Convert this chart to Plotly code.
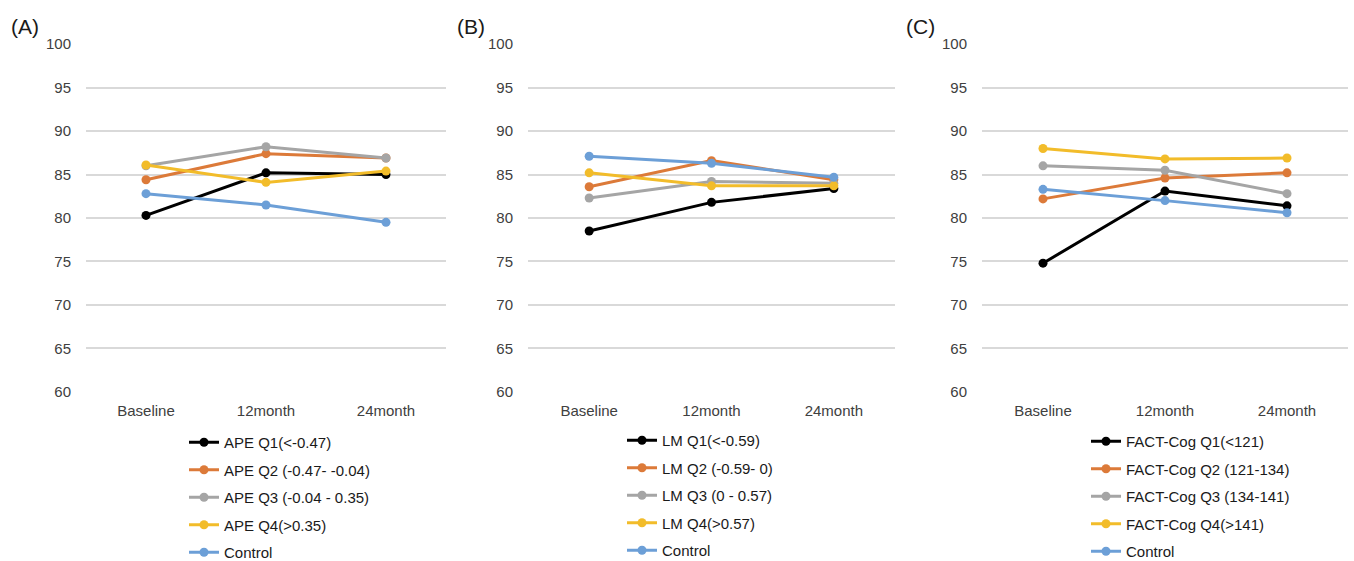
import plotly.graph_objects as go

categories = ["Baseline", "12month", "24month"]

names_a = ["APE Q1(<-0.47)", "APE Q2 (-0.47- -0.04)", "APE Q3 (-0.04 - 0.35)", "APE Q4(>0.35)", "Control"]
vals_a = [
    [80.3, 85.2, 85.0],
    [84.4, 87.4, 86.9],
    [86.0, 88.2, 86.9],
    [86.1, 84.1, 85.4],
    [82.8, 81.5, 79.5],
]

names_b = ["LM Q1(<-0.59)", "LM Q2 (-0.59- 0)", "LM Q3 (0 - 0.57)", "LM Q4(>0.57)", "Control"]
vals_b = [
    [78.5, 81.8, 83.4],
    [83.6, 86.6, 84.4],
    [82.3, 84.2, 84.0],
    [85.2, 83.7, 83.7],
    [87.1, 86.3, 84.7],
]

names_c = ["FACT-Cog Q1(<121)", "FACT-Cog Q2 (121-134)", "FACT-Cog Q3 (134-141)", "FACT-Cog Q4(>141)", "Control"]
vals_c = [
    [74.8, 83.1, 81.4],
    [82.2, 84.6, 85.2],
    [86.0, 85.5, 82.8],
    [88.0, 86.8, 86.9],
    [83.3, 82.0, 80.6],
]

panel_labels = ["(A)", "(B)", "(C)"]
y_ticks = [60, 65, 70, 75, 80, 85, 90, 95, 100]

colors = ["#000000", "#DC7A39", "#A5A5A5", "#F2BC2A", "#6C9FD7"]

W, H = 1354, 561
FONT = "Liberation Sans, Arial, sans-serif"

fig = go.Figure()

panels = [
    (names_a, vals_a, (86, 446), "x", "y", "legend", (184, 426)),
    (names_b, vals_b, (528, 895), "x2", "y2", "legend2", (622, 424)),
    (names_c, vals_c, (982, 1348), "x3", "y3", "legend3", (1086, 425)),
]

y_top_px, y_bot_px = 44, 392

layout = dict(
    width=W, height=H,
    margin=dict(l=0, r=0, t=0, b=0, autoexpand=False),
    paper_bgcolor="white", plot_bgcolor="white",
    font=dict(family=FONT, size=15, color="#595959"),
    showlegend=True,
)

annotations = []
for i, (names, vals, (x0, x1), xa, ya, lg, (lx, ly)) in enumerate(panels):
    for j, (nm, v) in enumerate(zip(names, vals)):
        fig.add_trace(go.Scatter(
            x=categories, y=v, name=nm, mode="lines+markers",
            line=dict(color=colors[j], width=3),
            marker=dict(color=colors[j], size=9),
            xaxis=xa, yaxis=ya, legend=lg, legendgroup=f"{lg}_{j}",
        ))
    sfx = "" if i == 0 else str(i + 1)
    layout["xaxis" + sfx] = dict(
        domain=[x0 / W, x1 / W], anchor="y" + sfx,
        showgrid=False, showline=False, zeroline=False, ticks="",
        ticklabelstandoff=8,
        tickfont=dict(family=FONT, size=15, color="#404040"),
        range=[-0.5, 2.5], fixedrange=True, automargin=False,
    )
    layout["yaxis" + sfx] = dict(
        domain=[1 - y_bot_px / H, 1 - y_top_px / H], anchor="x" + sfx,
        range=[59.98, 100.02], tickvals=y_ticks, showgrid=True,
        gridcolor="#D9D9D9", gridwidth=1.5, zeroline=False, showline=False,
        ticks="", ticklabelstandoff=14, automargin=False,
        tickfont=dict(family=FONT, size=15, color="#404040"),
    )
    layout[lg] = dict(
        x=lx / W, y=1 - ly / H, xanchor="left", yanchor="top",
        orientation="v", traceorder="grouped", tracegroupgap=5.0,
        bgcolor="rgba(0,0,0,0)", itemwidth=30,
        font=dict(family=FONT, size=15, color="#1a1a1a"),
    )
    annotations.append(dict(
        text=panel_labels[i], x=(9 + [0, 446, 895][i]) / W, y=1 - 27 / H,
        xref="paper", yref="paper", xanchor="left", yanchor="middle",
        showarrow=False, font=dict(family=FONT, size=21, color="#1a1a1a"),
    ))

layout["annotations"] = annotations
fig.update_layout(**layout)
fig.write_html(
    "out.html",
    config={"displayModeBar": False},
    post_script="document.body.style.margin='0';document.body.style.overflow='hidden';",
)
